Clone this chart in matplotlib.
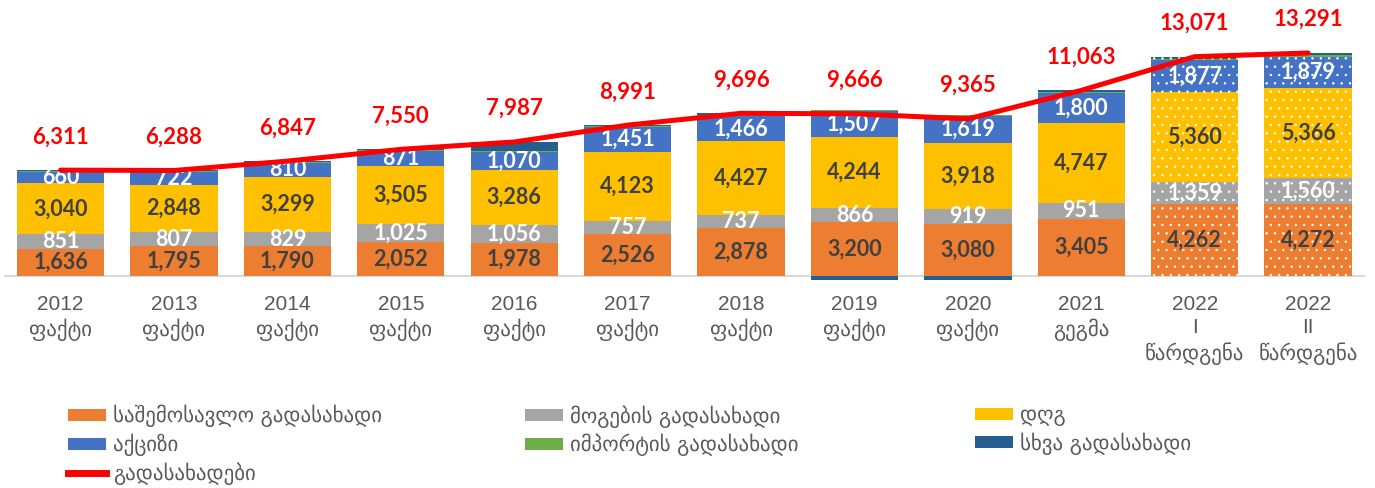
import numpy as np
import matplotlib.pyplot as plt
from matplotlib.lines import Line2D

plt.rcParams['hatch.color'] = 'white'
plt.rcParams['hatch.linewidth'] = 0.5

# categories (year + status)
cats = ['2012\nფაქტი', '2013\nფაქტი', '2014\nფაქტი', '2015\nფაქტი', '2016\nფაქტი',
        '2017\nფაქტი', '2018\nფაქტი', '2019\nფაქტი', '2020\nფაქტი', '2021\nგეგმა',
        '2022\nI\nწარდგენა', '2022\nII\nწარდგენა']

# series, mln GEL
income_tax = [1636, 1795, 1790, 2052, 1978, 2526, 2878, 3200, 3080, 3405, 4262, 4272]
profit_tax = [851, 807, 829, 1025, 1056, 757, 737, 866, 919, 951, 1359, 1560]
vat = [3040, 2848, 3299, 3505, 3286, 4123, 4427, 4244, 3918, 4747, 5360, 5366]
excise = [660, 722, 810, 871, 1070, 1451, 1466, 1507, 1619, 1800, 1877, 1879]
import_tax = [62, 60, 58, 55, 55, 60, 70, 69, 59, 55, 70, 70]
other_tax = [62, 56, 61, 42, 542, 74, 118, -220, -230, 105, 143, 144]
totals = [6311, 6288, 6847, 7550, 7987, 8991, 9696, 9666, 9365, 11063, 13071, 13291]

names = ['საშემოსავლო გადასახადი', 'მოგების გადასახადი', 'დღგ', 'აქციზი',
         'იმპორტის გადასახადი', 'სხვა გადასახადი']
line_name = 'გადასახადები'
colors = ['#ED7D31', '#A5A5A5', '#FFC000', '#4472C4', '#70AD47', '#255E91']
label_colors = ['#404040', 'white', '#404040', 'white', None, None]
series = [income_tax, profit_tax, vat, excise, import_tax, other_tax]

fig = plt.figure(figsize=(13.75, 4.88), dpi=100)
ax = fig.add_axes([0.0028, 0.4172, 0.9898, 0.5674])

x = np.arange(len(cats))
w = 0.77
bottom = np.zeros(len(cats))
handles = []
for vals, name, col, lcol in zip(series, names, colors, label_colors):
    vals = np.array(vals, dtype=float)
    b = np.where(vals >= 0, bottom, 0)
    bars = ax.bar(x, vals, w, bottom=b, color=col, edgecolor='white', linewidth=0,
                  label=name, zorder=2)
    for p in bars[10:]:
        p.set_hatch('..')
    handles.append(bars)
    if lcol is not None:
        for xi, bi, v in zip(x, b, vals):
            ax.text(xi, bi + v / 2, f'{int(v):,}', ha='center', va='center',
                    fontsize=15.5, fontweight='bold', family='Lato', color=lcol, zorder=3)
    bottom = bottom + np.clip(vals, 0, None)

ax.axhline(0, color='#D9D9D9', lw=1.5, zorder=1)

ln, = ax.plot(x, totals, color='red', lw=3.6, solid_capstyle='round', zorder=4)
for xi, t in zip(x, totals):
    ax.annotate(f'{t:,}', (xi, t), xytext=(0, 24), textcoords='offset points',
                ha='center', va='center', fontsize=16, fontweight='bold',
                family='Lato', color='red', zorder=5)

ax.set_xlim(-0.5, 11.5)
ax.set_ylim(-500, 16000)
for s in ax.spines.values():
    s.set_visible(False)
ax.set_yticks([])
ax.set_xticks(x, cats, fontsize=15, color='#595959',
              family=['Liberation Sans', 'DejaVu Sans'], linespacing=1.3)
ax.tick_params(axis='x', length=0, pad=7.5)

line_handle = Line2D([], [], color='red', lw=5)
cols = [([handles[0], handles[3], line_handle], [names[0], names[3], line_name], 68),
        ([handles[1], handles[4]], [names[1], names[4]], 525),
        ([handles[2], handles[5]], [names[2], names[5]], 975)]
for hs, ls, px in cols:
    fig.legend(hs, ls, loc='upper left', bbox_to_anchor=(px / 1375, 1 - 405 / 488),
               frameon=False, borderpad=0, borderaxespad=0, handlelength=1.8,
               handleheight=0.5, handletextpad=0.35, labelspacing=0.3,
               prop={'family': ['DejaVu Sans'], 'size': 15}, labelcolor='#595959')

fig.savefig('out.png', dpi=100)
